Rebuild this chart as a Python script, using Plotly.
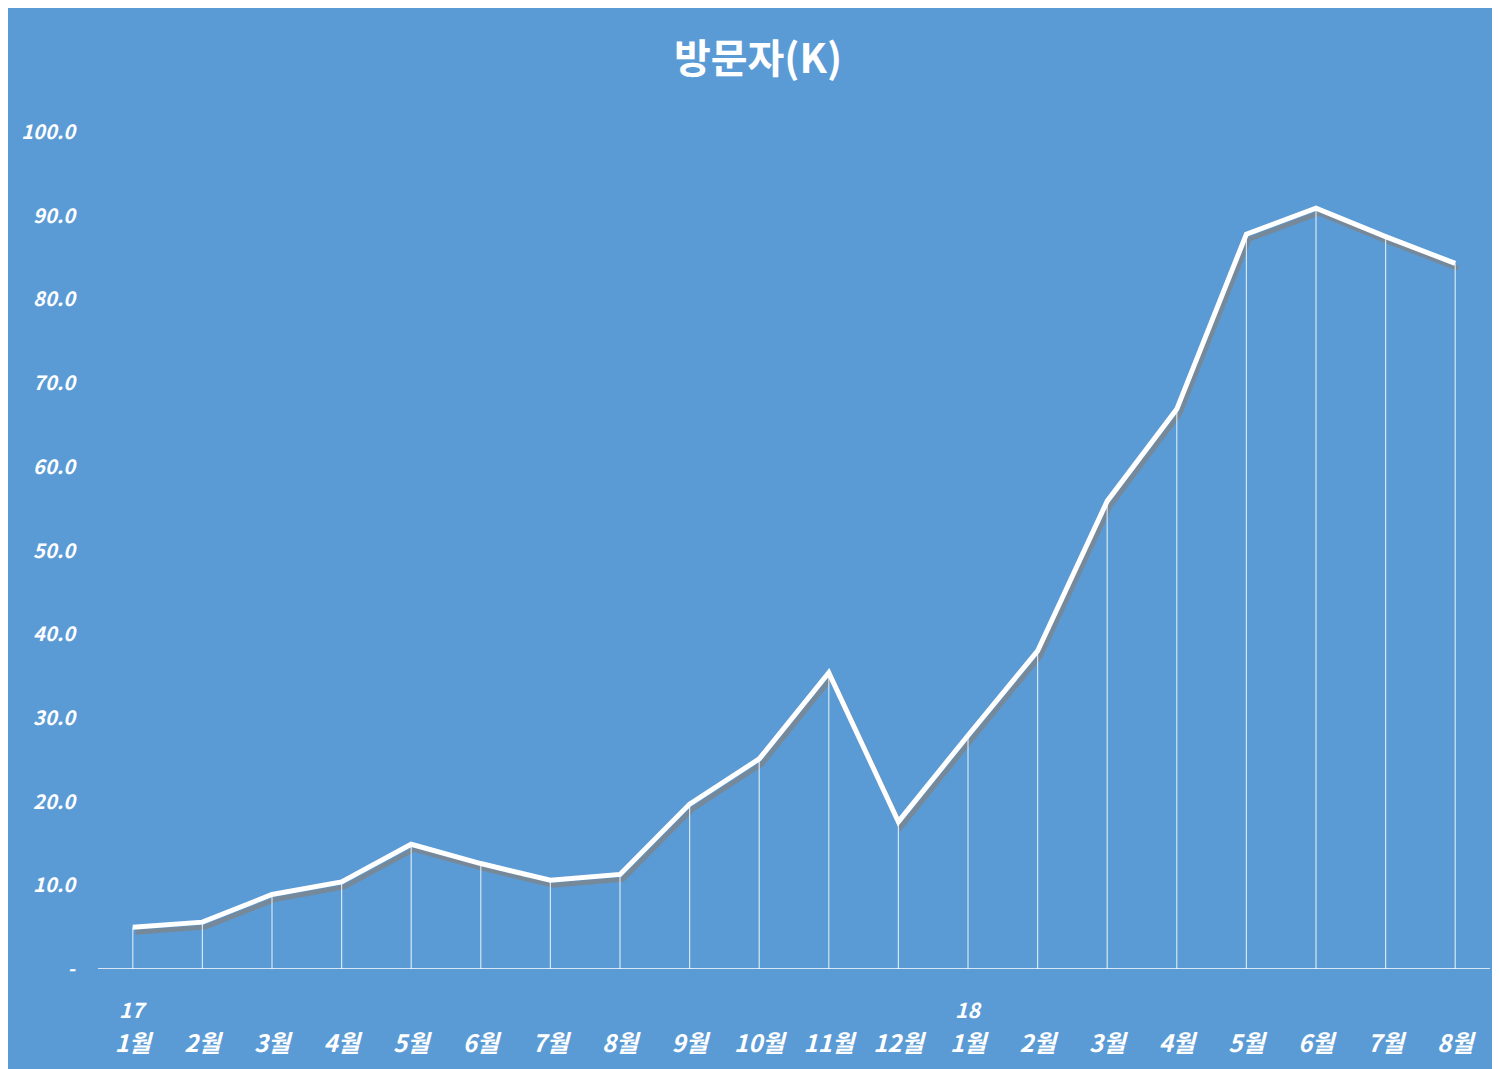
import plotly.graph_objects as go

months = ["1월", "2월", "3월", "4월", "5월", "6월", "7월", "8월", "9월", "10월", "11월", "12월",
          "1월", "2월", "3월", "4월", "5월", "6월", "7월", "8월"]
years = {0: "17", 12: "18"}
visitors = [5.0, 5.6, 8.9, 10.4, 14.9, 12.6, 10.6, 11.3, 19.7, 25.1, 35.4, 17.6,
            27.9, 38.0, 55.9, 66.9, 87.8, 90.9, 87.5, 84.3]
ytick_vals = [0, 10, 20, 30, 40, 50, 60, 70, 80, 90, 100]
ytick_text = ["-"] + [f"{v:.1f}" for v in ytick_vals[1:]]

bg = "#5b9bd5"
font_fam = "Noto Sans CJK KR"
xs = list(range(len(visitors)))

fig = go.Figure()
# shadow
fig.add_trace(go.Scatter(x=[x + 0.04 for x in xs], y=[v - 0.6 for v in visitors], mode="lines",
                         line=dict(color="rgba(130,130,130,0.7)", width=5), hoverinfo="skip"))
# drop lines
fig.add_trace(go.Scatter(x=xs, y=visitors, mode="markers", marker=dict(size=1, color="rgba(0,0,0,0)"),
                         error_y=dict(type="data", symmetric=False, array=[0] * len(visitors),
                                      arrayminus=visitors, width=0, thickness=1.2,
                                      color="rgba(255,255,255,0.75)"), hoverinfo="skip"))
fig.add_trace(go.Scatter(x=xs, y=visitors, mode="lines", line=dict(color="white", width=5)))

for i, yr in years.items():
    fig.add_annotation(x=i, y=-0.028, xref="x", yref="paper", text=f"<b><i>{yr}</i></b>",
                       showarrow=False, yanchor="top", font=dict(size=21, color="white", family=font_fam))

fig.update_layout(
    width=1500, height=1069, paper_bgcolor=bg, plot_bgcolor=bg, showlegend=False,
    margin=dict(l=90, r=18, t=124, b=108),
    title=dict(text="<b>방문자(K)</b>", x=0.5, y=0.965, xanchor="center",
               font=dict(size=40, color="white", family=font_fam)),
    xaxis=dict(range=[-0.5, 19.5], tickvals=xs, ticktext=[f"<b><i>{m}</i></b>" for m in months],
               showgrid=False, zeroline=False, showline=False, ticks="", ticklabelstandoff=58,
               tickfont=dict(size=24, color="white", family=font_fam)),
    yaxis=dict(range=[0, 100], tickvals=ytick_vals, ticktext=[f"<b><i>{t}</i></b>" for t in ytick_text],
               showgrid=False, zeroline=False, showline=False, ticks="", ticklabelstandoff=22,
               tickfont=dict(size=20, color="white", family=font_fam)),
    shapes=[dict(type="line", xref="paper", yref="y", x0=0, x1=1, y0=0, y1=0,
                 line=dict(color="white", width=1.5))],
)
fig.write_html("out.html")
